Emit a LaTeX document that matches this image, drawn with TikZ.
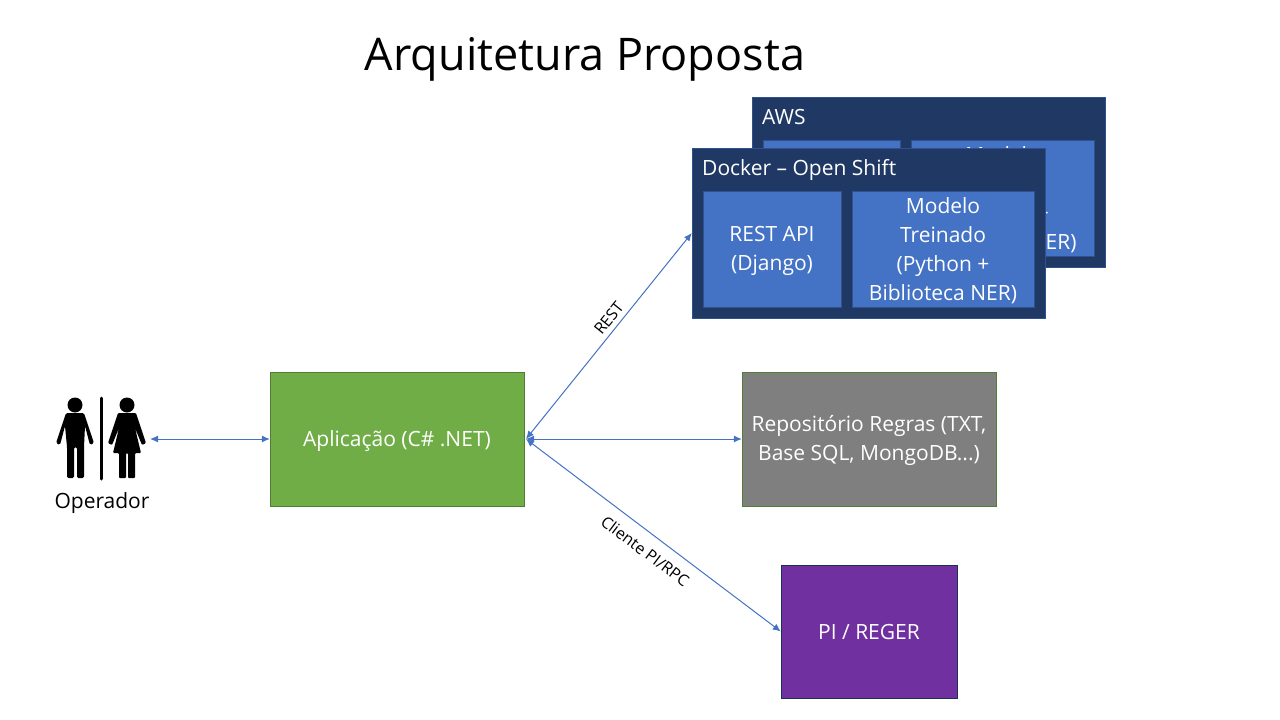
\documentclass[tikz,border=0pt]{standalone}
\usepackage{fontspec}
\usetikzlibrary{arrows.meta}
\setmainfont{Open Sans}
\definecolor{azul}{HTML}{4472C4}
\definecolor{azulBorda}{HTML}{2F528F}
\definecolor{marinho}{HTML}{1F3864}
\definecolor{verde}{HTML}{70AD47}
\definecolor{verdeBorda}{HTML}{507E32}
\definecolor{cinza}{HTML}{7F7F7F}
\definecolor{roxo}{HTML}{7030A0}
\newcommand{\desce}{\rule{0pt}{20pt}}
\tikzset{
  caixa/.style={rectangle, draw, inner sep=0pt, text=white, align=center, font=\fontsize{21}{29}\selectfont},
  externa/.style={caixa, fill=marinho, draw=azulBorda, minimum width=353pt, minimum height=170pt},
  interna/.style={caixa, fill=azul, draw=azulBorda, minimum height=116pt},
  rotulo/.style={inner sep=0pt, text=white, font=\fontsize{21}{25}\selectfont},
  ligacao/.style={{Latex[length=8pt,width=7pt]}-{Latex[length=8pt,width=7pt]}, azul, line width=1pt},
  legenda/.style={inner sep=0pt, font=\fontsize{16}{19}\selectfont},
}
\begin{document}
\begin{tikzpicture}[x=1pt, y=-1pt]
        \useasboundingbox (0,0) rectangle (1280,720);

        % Title
        \node[inner sep=0pt, font=\fontsize{45}{54}\selectfont] (titulo) at (585,59) {Arquitetura Proposta};

        % AWS
        \node[externa] (aws) at (928.5,182) {};
        \node[rotulo, anchor=west] (awsNome) at (762,117) {AWS};
        \node[interna, minimum width=137pt] (awsApi) at (831.5,198) {};
        \node[interna, minimum width=183pt] (awsModelo) at (1002.5,198) {\desce Modelo\\Treinado\\(Python +\\Biblioteca NER)};

        % Docker
        \node[externa] (docker) at (868.5,233) {};
        \node[rotulo, anchor=west] (dockerNome) at (702,170) {Docker – Open Shift};
        \node[interna, minimum width=138pt] (api) at (772,249) {\desce REST API\\(Django)};
        \node[interna, minimum width=182pt] (modelo) at (943,249) {\desce Modelo\\Treinado\\(Python +\\Biblioteca NER)};

        % Boxes
        \node[caixa, fill=verde, draw=verdeBorda, minimum width=254pt, minimum height=134pt] (app) at (397,439) {\desce Aplicação (C\# .NET)};
        \node[caixa, fill=cinza, draw=verdeBorda, minimum width=254pt, minimum height=134pt] (repo) at (869,439) {\desce Repositório Regras (TXT,\\Base SQL, MongoDB...)};
        \node[caixa, fill=roxo, draw=azulBorda!60!black, minimum width=176pt, minimum height=133pt] (pi) at (869,631.5) {PI / REGER};

        % Operator
        \fill (75,405) circle (7.5);
        \fill (127,405) circle (7.5);
        \fill[rounded corners=1.5pt] (66,413) -- (84,413) -- (94,443) -- (90,445) -- (85,426) -- (84,447) -- (84,478) -- (77,478) -- (77,447) -- (74,447) -- (74,478) -- (67,478) -- (67,447) -- (65,426) -- (60,445) -- (56,443) -- cycle;
        \fill[rounded corners=1pt] (118,413) -- (136,413) -- (146,443) -- (142,445) -- (135,428) -- (141,453) -- (135,453) -- (135,478) -- (128,478) -- (128,453) -- (126,453) -- (126,478) -- (119,478) -- (119,453) -- (113,453) -- (119,428) -- (112,445) -- (108,443) -- cycle;
        \draw[line width=3pt, line cap=round] (101,398) -- (101,479);
        \node[inner sep=0pt, font=\fontsize{21}{25}\selectfont] (operador) at (102,503) {Operador};
        \coordinate (operadorDir) at (150,439);
        \coordinate (hub) at (526,439);

        % Edges
        \draw[ligacao] (operadorDir) -- (app.west);
        \draw[ligacao] (hub) -- (docker.west) node[pos=0.553, sloped, above=5pt, legenda, text=black] (rest) {REST};
        \draw[ligacao] (hub) -- (repo.west);
        \draw[ligacao] (hub) -- (pi.west) node[pos=0.51, sloped, below=11pt, legenda, text=black] (cliente) {Cliente PI/RPC};

    \end{tikzpicture}
\end{document}
